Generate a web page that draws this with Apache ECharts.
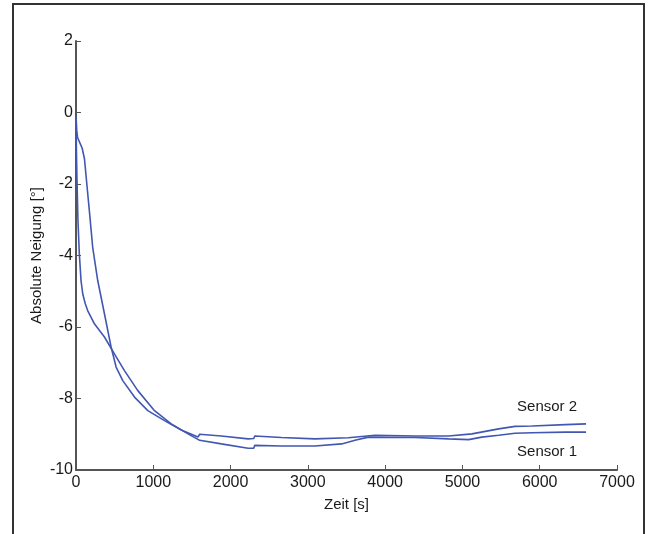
<!DOCTYPE html>
<html>
<head>
<meta charset="utf-8">
<script src="https://cdn.jsdelivr.net/npm/echarts@6/dist/echarts.min.js"></script>
<style>html,body{margin:0;padding:0;background:#fff;}#c{width:648px;height:534px;}</style>
</head>
<body>
<div id="c"></div>
<script>
const xTicks = [0, 1000, 2000, 3000, 4000, 5000, 6000, 7000];
const yTicks = [-10, -8, -6, -4, -2, 0, 2];

const sensor1Time = [0, 5, 13, 25, 43, 65, 87, 120, 151, 238, 368, 497, 627, 800, 1016, 1232, 1449, 1600, 1881, 2227, 2300, 2313, 2659, 3091, 3437, 3610, 3783, 4389, 4822, 5080, 5250, 5469, 5680, 5901, 6333, 6600];
const sensor1Value = [-0.2, -1.0, -1.9, -3.0, -3.95, -4.7, -5.07, -5.35, -5.54, -5.91, -6.28, -6.75, -7.22, -7.78, -8.34, -8.71, -8.99, -9.17, -9.27, -9.39, -9.39, -9.31, -9.33, -9.33, -9.27, -9.17, -9.08, -9.09, -9.13, -9.15, -9.08, -9.03, -8.97, -8.96, -8.94, -8.94];

const sensor2Time = [0, 10, 20, 50, 80, 110, 140, 175, 216, 281, 368, 454, 519, 605, 757, 929, 1145, 1362, 1578, 1600, 1881, 2227, 2300, 2313, 2659, 3091, 3524, 3870, 4389, 4822, 5123, 5469, 5680, 5901, 6333, 6600];
const sensor2Value = [-0.1, -0.5, -0.7, -0.85, -1.0, -1.3, -2.0, -2.8, -3.77, -4.7, -5.63, -6.56, -7.12, -7.5, -7.96, -8.34, -8.62, -8.88, -9.08, -9.0, -9.05, -9.13, -9.12, -9.05, -9.09, -9.13, -9.1, -9.03, -9.05, -9.05, -8.99, -8.85, -8.78, -8.77, -8.73, -8.71];

const seriesNames = ['Sensor 1', 'Sensor 2'];
const lineColor = '#4257b2';

const chart = echarts.init(document.getElementById('c'), null, {renderer: 'canvas'});
const fontFam = 'Liberation Sans, Arial, sans-serif';
const axisColor = '#555';
const textColor = '#1a1a1a';

function pairs(t, v) { return t.map((x, i) => [x, v[i]]); }
const s1 = pairs(sensor1Time, sensor1Value);
const s2 = pairs(sensor2Time, sensor2Value);

chart.setOption({
  animation: false,
  backgroundColor: '#fff',
  grid: {left: 76, top: 41, width: 541, height: 429, containLabel: false},
  xAxis: {
    type: 'value', min: xTicks[0], max: xTicks[xTicks.length - 1], interval: 1000,
    name: 'Zeit [s]', nameLocation: 'middle', nameGap: 27,
    nameTextStyle: {fontFamily: fontFam, fontSize: 15, color: textColor},
    axisLine: {show: true, onZero: false, lineStyle: {color: axisColor, width: 2}},
    axisTick: {show: true, inside: true, length: 5, lineStyle: {color: axisColor, width: 1}},
    axisLabel: {fontFamily: fontFam, fontSize: 16, color: textColor, margin: 5, formatter: v => String(v)},
    splitLine: {show: false}
  },
  yAxis: {
    type: 'value', min: yTicks[0], max: yTicks[yTicks.length - 1], interval: 2,
    name: 'Absolute Neigung [°]', nameLocation: 'middle', nameGap: 32, nameRotate: 90,
    nameMoveOverlap: false,
    nameTextStyle: {fontFamily: fontFam, fontSize: 15, color: textColor},
    axisLine: {show: true, onZero: false, lineStyle: {color: axisColor, width: 2}},
    axisTick: {show: true, inside: true, length: 5, lineStyle: {color: axisColor, width: 1}},
    axisLabel: {fontFamily: fontFam, fontSize: 16, color: textColor, margin: 3, formatter: v => String(v)},
    splitLine: {show: false}
  },
  series: [
    {name: seriesNames[0], type: 'line', data: s1, showSymbol: false, symbol: 'none',
     lineStyle: {color: lineColor, width: 1.6},
     endLabel: {show: true, formatter: seriesNames[0], fontFamily: fontFam, fontSize: 15, color: textColor, offset: [-77, 20]}},
    {name: seriesNames[1], type: 'line', data: s2, showSymbol: false, symbol: 'none',
     lineStyle: {color: lineColor, width: 1.6},
     endLabel: {show: true, formatter: seriesNames[1], fontFamily: fontFam, fontSize: 15, color: textColor, offset: [-77, -17]}}
  ],
  graphic: [
    {type: 'rect', shape: {x: 13, y: 4, width: 631, height: 560}, style: {fill: 'none', stroke: '#333', lineWidth: 2}, silent: true}
  ]
});
</script>
</body>
</html>
